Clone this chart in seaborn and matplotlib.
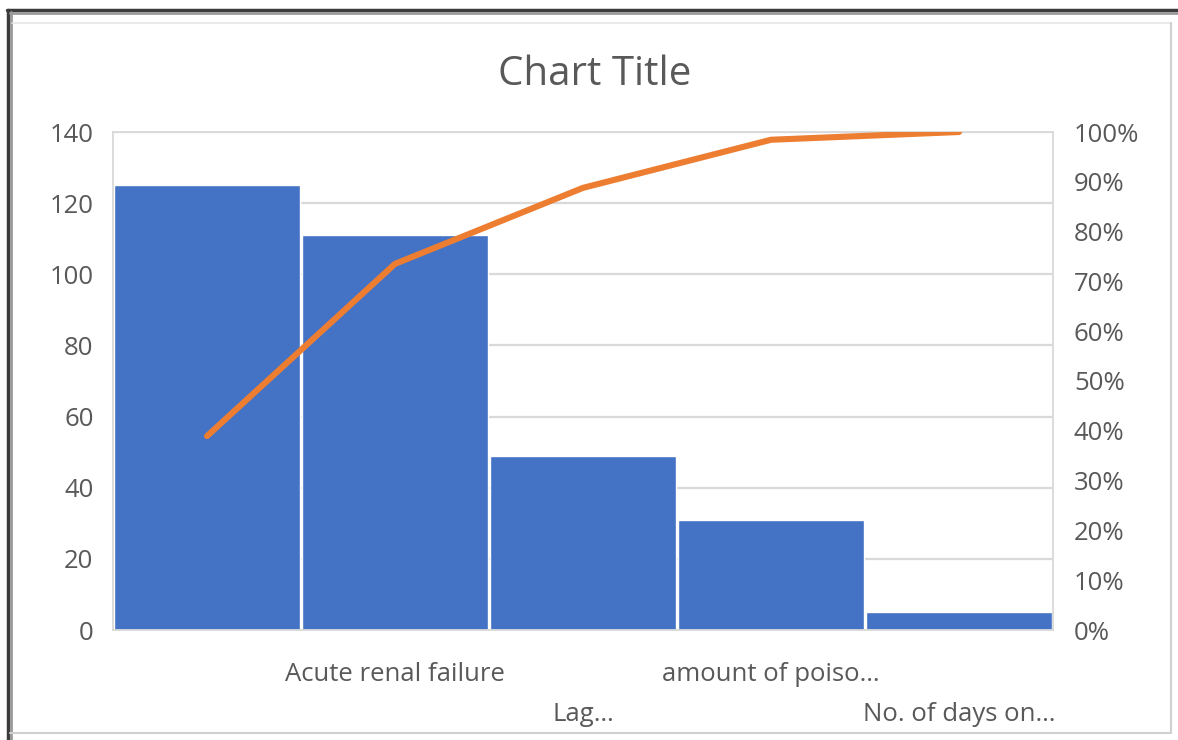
import numpy as np
import matplotlib
matplotlib.use("Agg")
import matplotlib.pyplot as plt
from matplotlib.lines import Line2D
from matplotlib.ticker import FuncFormatter
import seaborn as sns

# Pareto data: counts per cause, sorted descending
categories = ["", "Acute renal failure", "Lag…", "amount of poiso…", "No. of days on…"]
counts = [125, 111, 49, 31, 5]
left_ticks = [0, 20, 40, 60, 80, 100, 120, 140]
right_ticks = [0.0, 0.1, 0.2, 0.3, 0.4, 0.5, 0.6, 0.7, 0.8, 0.9, 1.0]

cum_share = np.cumsum(counts) / np.sum(counts)

BAR = "#4472C4"
LINE = "#ED7D31"
TEXT = "#595959"
GRID = "#D9D9D9"

sns.set_theme(style="white")
plt.rcParams["font.family"] = ["Open Sans", "DejaVu Sans"]

W, H = 1178, 740
fig = plt.figure(figsize=(W / 100, H / 100), dpi=100)
fig.patch.set_facecolor("white")

x0, x1, y_top, y_bot = 113, 1053, 132, 630
ax = fig.add_axes([x0 / W, 1 - y_bot / H, (x1 - x0) / W, (y_bot - y_top) / H])

pos = np.arange(len(categories))
sns.barplot(x=pos, y=counts, color=BAR, saturation=1, width=0.985,
            ax=ax, zorder=2, native_scale=True)
ax.set_xlim(-0.5, len(categories) - 0.5)
ax.set_ylim(0, 140)
ax.set_yticks(left_ticks)
ax.yaxis.grid(True, color=GRID, linewidth=1.6, zorder=0)
ax.set_axisbelow(True)
for s in ax.spines.values():
    s.set_color(GRID)
    s.set_linewidth(1.3)
ax.tick_params(axis="both", length=0, labelsize=18.5, labelcolor=TEXT)
ax.tick_params(axis="y", pad=14)
ax.set_xticks(pos)
ax.set_xticklabels(categories)
for i, t in enumerate(ax.xaxis.get_major_ticks()):
    t.set_pad(23 if i % 2 == 1 else 52)
ax.set_xlabel("")
ax.set_ylabel("")

ax2 = ax.twinx()
sns.lineplot(x=pos, y=cum_share, color=LINE, linewidth=4.4, ax=ax2,
             solid_capstyle="round", zorder=3)
ax2.set_ylim(0, 1)
ax2.set_yticks(right_ticks)
ax2.yaxis.set_major_formatter(FuncFormatter(lambda v, _: f"{v:.0%}"))
ax2.tick_params(axis="y", length=0, labelsize=18.5, labelcolor=TEXT, pad=15)
for s in ax2.spines.values():
    s.set_visible(False)
ax2.set_ylabel("")

fig.text(595 / W, 1 - 75 / H, "Chart Title", ha="center", va="center",
         fontsize=29, color=TEXT)

# window frame around the chart
def fig_line(xs, ys, color, lw):
    fig.add_artist(Line2D([x / W for x in xs], [1 - y / H for y in ys],
                          color=color, linewidth=lw, transform=fig.transFigure))

fig_line([7, W], [10, 10], "#3c3c3c", 2.5)
fig_line([8, 8], [10, H], "#3c3c3c", 2.5)
fig_line([10, W], [13, 13], "#9a9a9a", 2)
fig_line([11, 11], [12, H], "#9a9a9a", 2)
fig_line([12, 1171], [23, 23], "#e6e6e6", 1.2)
fig_line([1171, 1171], [23, 733], "#d0d0d0", 1.5)
fig_line([10, 1171], [733, 733], "#d0d0d0", 1.5)

fig.savefig("out.png", dpi=100, facecolor="white")
